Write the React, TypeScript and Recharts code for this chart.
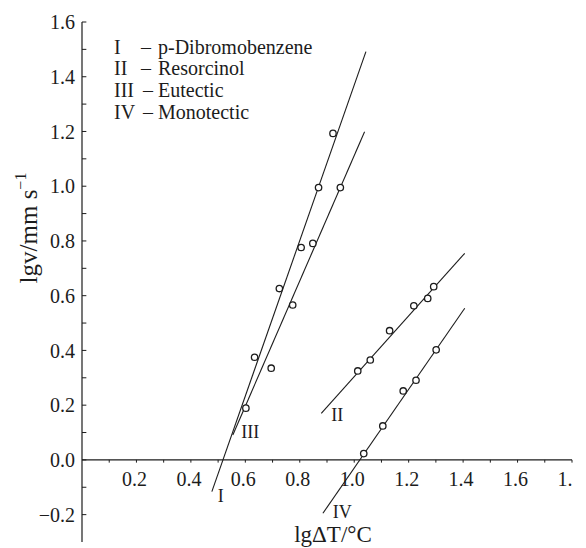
import {
  ComposedChart,
  Line,
  ReferenceLine,
  Scatter,
  XAxis,
  YAxis,
} from "recharts";

// lg(ΔT) vs lg(v) growth data.
const seriesI = [
  { x: 0.634, y: 0.375 },
  { x: 0.725, y: 0.626 },
  { x: 0.805, y: 0.776 },
  { x: 0.869, y: 0.995 },
  { x: 0.922, y: 1.193 },
];
const seriesII = [
  { x: 1.013, y: 0.325 },
  { x: 1.059, y: 0.365 },
  { x: 1.13, y: 0.472 },
  { x: 1.219, y: 0.563 },
  { x: 1.27, y: 0.59 },
  { x: 1.292, y: 0.633 },
];
const seriesIII = [
  { x: 0.602, y: 0.189 },
  { x: 0.695, y: 0.335 },
  { x: 0.774, y: 0.566 },
  { x: 0.848, y: 0.791 },
  { x: 0.949, y: 0.995 },
];
const seriesIV = [
  { x: 1.035, y: 0.023 },
  { x: 1.105, y: 0.124 },
  { x: 1.18, y: 0.252 },
  { x: 1.227, y: 0.291 },
  { x: 1.301, y: 0.402 },
];

// fitted straight lines (end points)
const fitI = [
  { x: 0.477, y: -0.116 },
  { x: 1.043, y: 1.492 },
];
const fitII = [
  { x: 0.879, y: 0.17 },
  { x: 1.406, y: 0.755 },
];
const fitIII = [
  { x: 0.554, y: 0.091 },
  { x: 1.038, y: 1.199 },
];
const fitIV = [
  { x: 0.885, y: -0.195 },
  { x: 1.406, y: 0.554 },
];

const curveLabels = [
  { x: 0.51, y: -0.132, text: "I" },
  { x: 0.9375, y: 0.164, text: "II" },
  { x: 0.618, y: 0.103, text: "III" },
  { x: 0.956, y: -0.19, text: "IV" },
];

const xTickLabels = [0.2, 0.4, 0.6, 0.8, 1.0, 1.2, 1.4, 1.6, 1.8];
const xTickMarks = [0.1, 0.2, 0.3, 0.4, 0.5, 0.6, 0.7, 0.8, 0.9, 1.0, 1.1, 1.2, 1.3, 1.4, 1.5, 1.6, 1.7, 1.8];
const yTicks = [-0.2, 0, 0.2, 0.4, 0.6, 0.8, 1.0, 1.2, 1.4, 1.6];
const yTickMarks = [-0.2, -0.1, 0, 0.1, 0.2, 0.3, 0.4, 0.5, 0.6, 0.7, 0.8, 0.9, 1.0, 1.1, 1.2, 1.3, 1.4, 1.5, 1.6];

const legendRows = [
  { num: "I", name: "p-Dibromobenzene" },
  { num: "II", name: "Resorcinol" },
  { num: "III", name: "Eutectic" },
  { num: "IV", name: "Monotectic" },
];

const FONT = '"Liberation Serif", "Times New Roman", serif';
const INK = "#1c1c1c";

const fmt = (v: number) => (v < 0 ? "\u2212" + Math.abs(v).toFixed(1) : v.toFixed(1));

const OpenCircle = (p: any) => (
  <circle cx={p.cx} cy={p.cy} r={3.2} fill="#fff" stroke={INK} strokeWidth={1.3} />
);

const XLabel = (p: any) => (
  <text
    x={p.cx - 2}
    y={p.cy + 19}
    textAnchor="middle"
    dominantBaseline="central"
    fontFamily={FONT}
    fontSize={20}
    fill={INK}
  >
    {fmt(p.payload.x)}
  </text>
);

const CurveLabel = (p: any) => (
  <text
    x={p.cx}
    y={p.cy}
    textAnchor="middle"
    dominantBaseline="central"
    fontFamily={FONT}
    fontSize={18}
    fill={INK}
  >
    {p.payload.text}
  </text>
);

const lines = [fitI, fitII, fitIII, fitIV];
const points = [seriesI, seriesII, seriesIII, seriesIV];

export default function App() {
  return (
    <div style={{ position: "absolute", left: 0, top: 0, width: 586, height: 548, background: "#fff" }}>
      <ComposedChart width={586} height={548} margin={{ top: 22, right: 14, bottom: 6, left: 22 }}>
        <XAxis type="number" dataKey="x" domain={[0, 1.8]} hide allowDataOverflow />
        <YAxis
          type="number"
          dataKey="y"
          domain={[-0.3, 1.6]}
          ticks={yTicks}
          interval={0}
          width={60}
          tickLine={false}
          tickSize={0}
          tickMargin={7}
          tickFormatter={fmt}
          axisLine={{ stroke: INK, strokeWidth: 1.2 }}
          tick={{ fontFamily: FONT, fontSize: 20, fill: INK }}
          allowDataOverflow
        />
        <ReferenceLine y={0} stroke={INK} strokeWidth={1.2} />
        {xTickMarks.map((t) => (
          <ReferenceLine
            key={"xt" + t}
            segment={[
              { x: t, y: 0 },
              { x: t, y: -0.01 },
            ]}
            stroke={INK}
            strokeWidth={1}
          />
        ))}
        {yTickMarks.map((t) => (
          <ReferenceLine
            key={"yt" + t}
            segment={[
              { x: 0, y: t },
              { x: 0.016, y: t },
            ]}
            stroke={INK}
            strokeWidth={1}
          />
        ))}
        {lines.map((d, i) => (
          <Line
            key={"l" + i}
            data={d}
            dataKey="y"
            type="linear"
            stroke={INK}
            strokeWidth={1.1}
            dot={false}
            activeDot={false}
            isAnimationActive={false}
          />
        ))}
        {points.map((d, i) => (
          <Scatter key={"s" + i} data={d} dataKey="y" shape={OpenCircle} isAnimationActive={false} />
        ))}
        <Scatter
          data={xTickLabels.map((x) => ({ x, y: 0 }))}
          dataKey="y"
          shape={XLabel}
          isAnimationActive={false}
        />
        <Scatter data={curveLabels} dataKey="y" shape={CurveLabel} isAnimationActive={false} />
      </ComposedChart>
      <svg
        width={586}
        height={548}
        style={{ position: "absolute", left: 0, top: 0, pointerEvents: "none" }}
        fontFamily={FONT}
        fill={INK}
      >
        {legendRows.map((r, i) => (
          <g key={r.num} fontSize={20}>
            <text x={114} y={53.5 + i * 21.7}>
              {r.num}
            </text>
            <text x={i < 2 ? 141 : 143} y={53.5 + i * 21.7}>
              –
            </text>
            <text x={158} y={53.5 + i * 21.7}>
              {r.name}
            </text>
          </g>
        ))}
        <text x={37} y={228} fontSize={25} textAnchor="middle" transform="rotate(-90 37 228)">
          lgv/mm s
          <tspan fontSize={16} dy={-11}>
            {"\u22121"}
          </tspan>
        </text>
        <text x={333} y={542} fontSize={23} textAnchor="middle">
          lgΔT/°C
        </text>
      </svg>
    </div>
  );
}
